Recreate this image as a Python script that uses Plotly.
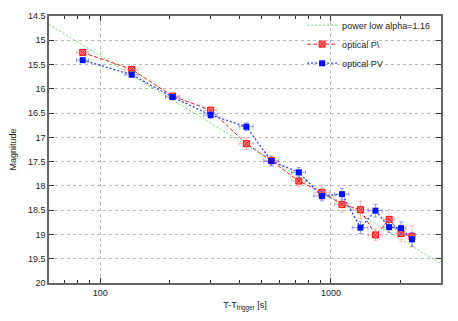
import numpy as np
import plotly.graph_objects as go

# ---- data ----
t_mid = [84, 137, 206, 301, 430, 552, 726, 914, 1117, 1343, 1560, 1788, 2013, 2245]
t_err = [5, 9, 14, 20, 30, 40, 50, 70, 80, 105, 110, 100, 100, 50]

mag_red = [15.25, 15.60, 16.15, 16.44, 17.13, 17.48, 17.90, 18.13, 18.38, 18.49, 19.01, 18.69, 18.98, 19.04]
err_red = [0.05, 0.06, 0.05, 0.06, 0.12, 0.10, 0.12, 0.15, 0.16, 0.18, 0.12, 0.20, 0.17, 0.22]

mag_blue = [15.41, 15.71, 16.17, 16.54, 16.78, 17.49, 17.72, 18.21, 18.17, 18.86, 18.51, 18.85, 18.87, 19.10]
err_blue = [0.03, 0.04, 0.05, 0.07, 0.08, 0.10, 0.10, 0.10, 0.12, 0.12, 0.13, 0.11, 0.13, 0.14]

# power-law model
alpha = 1.16
mag_at_100 = 15.32
t_model = [60, 3000]

label_model = "power low alpha=1.16"
label_red = "optical P\\"
label_blue = "optical PV"

FONT = "Liberation Sans, Arial, Helvetica, sans-serif"

mag_model = [mag_at_100 + 2.5 * alpha * np.log10(t / 100.0) for t in t_model]

fig = go.Figure()

fig.add_trace(go.Scatter(
    x=t_model, y=mag_model, mode="lines", name=label_model,
    line=dict(color="#70e070", width=1, dash="2px,2px"),
))

fig.add_trace(go.Scatter(
    x=t_mid, y=mag_red, mode="lines+markers", name=label_red,
    line=dict(color="#ff2020", width=1, dash="4px,2px"),
    marker=dict(symbol="square-x", size=6, color="rgba(255,120,120,0.85)",
                line=dict(color="#ff1010", width=1)),
    error_x=dict(type="data", array=t_err, color="rgba(255,130,130,0.55)", thickness=1, width=2),
    error_y=dict(type="data", array=err_red, color="rgba(255,130,130,0.55)", thickness=1, width=2),
))

fig.add_trace(go.Scatter(
    x=t_mid, y=mag_blue, mode="lines+markers", name=label_blue,
    line=dict(color="#3040ff", width=1.3, dash="2px,2px"),
    marker=dict(symbol="square", size=6, color="#0010ff"),
    error_x=dict(type="data", array=t_err, color="rgba(90,100,255,0.6)", thickness=1, width=2),
    error_y=dict(type="data", array=err_blue, color="rgba(90,100,255,0.6)", thickness=1, width=2),
))

axis_common = dict(
    showline=True, linecolor="#666666", linewidth=1.5, mirror="allticks",
    ticks="inside", tickcolor="#333333", ticklen=5,
    showgrid=True, gridcolor="#bbbbbb", griddash="dot", gridwidth=1,
    zeroline=False, tickfont=dict(family=FONT, size=9, color="#222222"),
    automargin=False,
)

fig.update_xaxes(
    type="log", range=[np.log10(60), np.log10(3000)],
    tickvals=[100, 1000], ticktext=["100", "1000"],
    minor=dict(ticks="inside", ticklen=3, tickcolor="#333333", dtick="D1", showgrid=False),
    title=dict(text="T-T<sub>trigger</sub> [s]", font=dict(family=FONT, size=9, color="#222222"),
               standoff=5),
    **axis_common,
)
fig.update_yaxes(
    range=[20, 14.5], dtick=0.5, tick0=14.5,
    title=dict(text="Magnitude", font=dict(family=FONT, size=9, color="#222222")),
    **axis_common,
)

# page body has an 8px margin, so the figure is sized to fit the 458x321 window
fig.update_layout(
    width=450, height=313,
    margin=dict(l=41, r=17, t=3, b=38),
    paper_bgcolor="white", plot_bgcolor="white",
    showlegend=True,
    legend=dict(x=0.985, y=1.02, xanchor="right", yanchor="top", bgcolor="rgba(0,0,0,0)",
                font=dict(family=FONT, size=9, color="#222222"), itemwidth=30,
                tracegroupgap=0),
)

fig.write_html("out.html")
